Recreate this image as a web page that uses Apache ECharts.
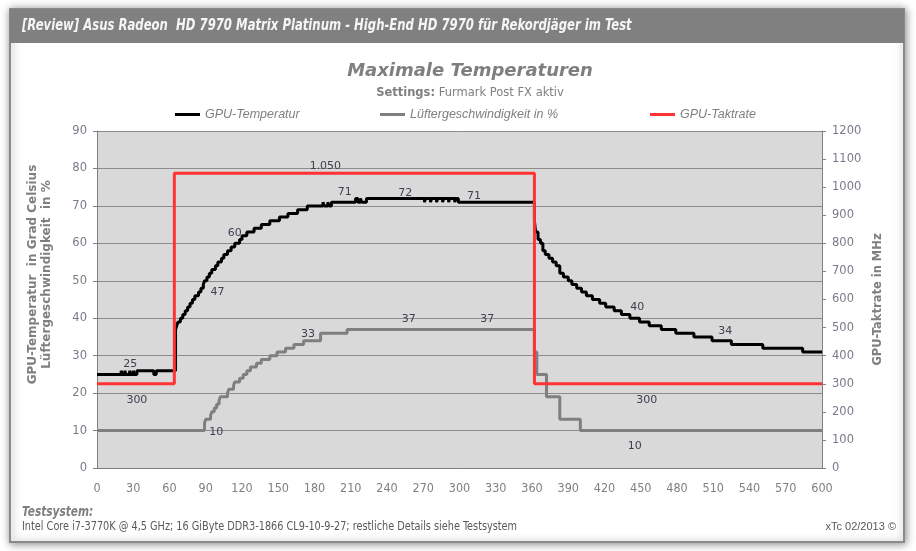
<!DOCTYPE html>
<html lang="de">
<head>
<meta charset="UTF-8">
<title>Maximale Temperaturen</title>
<script src="https://cdn.jsdelivr.net/npm/echarts@6/dist/echarts.min.js"></script>
<style>
    html, body { margin: 0; padding: 0; background: #fff; }
    #main { width: 916px; height: 551px; }
</style>
</head>
<body>
<div id="main"></div>
<script>
    // Messwerte als [Sekunde, Wert] - der Wert gilt ab dieser Sekunde (Treppe)
    var tempData = [
        [0, 25], [20, 26], [21, 25], [23, 26], [24, 25], [27, 26], [28, 25], [30, 26], [31, 25], [33, 26],
        [47, 25], [49, 26],
        [65, 37], [66, 38], [67, 39], [69, 40], [71, 41], [73, 42], [75, 43], [77, 44], [79, 45], [81, 46],
        [84, 47], [86, 48], [88, 49], [89, 50], [91, 51], [93, 52], [95, 53], [98, 54], [100, 55], [103, 56],
        [105, 57], [108, 58], [111, 59], [114, 60], [118, 61], [120, 62], [124, 63], [130, 64], [136, 65],
        [143, 66], [151, 67], [158, 68], [166, 69], [174, 70], [187, 71], [188, 70], [191, 71], [192, 70],
        [194, 71], [214, 72], [216, 71], [218, 72], [219, 71], [223, 72], [271, 71], [272, 72], [276, 71],
        [277, 72], [281, 71], [282, 72], [286, 71], [287, 72], [291, 71], [292, 72], [296, 71], [297, 72],
        [299, 71], [362, 66], [363, 63], [365, 61], [367, 60], [369, 58], [371, 57], [374, 56], [377, 55],
        [380, 54], [383, 52], [386, 51], [390, 50], [393, 49], [397, 48], [401, 47], [405, 46], [410, 45],
        [416, 44], [421, 43], [428, 42], [434, 41], [441, 40], [449, 39], [457, 38], [467, 37], [479, 36],
        [494, 35], [509, 34], [525, 33], [551, 32], [584, 31], [600, 31]
    ];
    var fanData = [
        [0, 10], [89, 12], [90, 13], [94, 14], [95, 15], [97, 16], [99, 17], [101, 18], [102, 19], [108, 20],
        [109, 21], [113, 22], [114, 23], [118, 24], [121, 25], [124, 26], [127, 27], [132, 28], [136, 29],
        [143, 30], [149, 31], [156, 32], [163, 33], [171, 34], [185, 36], [207, 37], [362, 31], [364, 25],
        [372, 19], [383, 13], [400, 10], [600, 10]
    ];
    var clockData = [[0, 300], [64, 1050], [362, 300], [600, 300]];

    var seriesNames = ['GPU-Temperatur', 'Lüftergeschwindigkeit in %', 'GPU-Taktrate'];

    // Sekunden, an denen Excel Datenbeschriftungen zeigt
    var tempLabelAt = [25, 84, 114, 205, 255, 312, 447, 520];
    var fanLabelAt = [88, 168, 258, 323, 445];
    var clockLabelAt = [33, 189, 455];

    var labelFont = 'DejaVu Sans, Verdana, sans-serif';
    var narrowFont = "'Liberation Sans Narrow', 'DejaVu Sans Condensed', 'Liberation Sans', sans-serif";

    function valueAt(data, t) {
        var v = data[0][1];
        for (var i = 0; i < data.length; i++) {
            if (data[i][0] <= t) v = data[i][1];
        }
        return v;
    }

    function germanNum(v) {
        return String(v).replace(/\B(?=(\d{3})+(?!\d))/g, '.');
    }

    // pos/dist je Beschriftung, Reihenfolge wie in den *LabelAt Listen
    function marks(data, times, pos, dist, offs) {
        return times.map(function (t, i) {
            var v = valueAt(data, t);
            return {
                coord: [t, v],
                value: v,
                label: { position: pos[i], distance: dist[i], offset: offs ? offs[i] : [0, 0] }
            };
        });
    }

    var markLabel = {
        show: true,
        color: '#404050',
        fontFamily: labelFont,
        fontSize: 11,
        formatter: function (p) { return germanNum(p.value); }
    };

    var myChart = echarts.init(document.getElementById('main'));

    var option = {
        animation: false,
        backgroundColor: '#fff',
        title: {
            text: 'Maximale Temperaturen',
            subtext: '{b|Settings:} Furmark Post FX aktiv',
            left: 465,
            textAlign: 'center',
            top: 57,
            itemGap: 7,
            textStyle: {
                color: '#7f7f7f',
                fontStyle: 'italic',
                fontWeight: 'bold',
                fontSize: 18,
                fontFamily: labelFont
            },
            subtextStyle: {
                color: '#7f7f7f',
                fontSize: 11.5,
                fontFamily: labelFont,
                rich: {
                    b: { fontWeight: 'bold', fontSize: 11.5, color: '#7f7f7f', fontFamily: labelFont }
                }
            }
        },
        legend: [0, 1, 2].map(function (i) {
            return {
                data: [seriesNames[i]],
                left: [175, 380, 650][i],
                top: 108,
                padding: 0,
                icon: 'rect',
                itemWidth: 25,
                itemHeight: 3,
                textStyle: {
                    color: '#7f7f7f',
                    fontStyle: 'italic',
                    fontSize: 12.5,
                    fontFamily: 'Liberation Sans, Arial, sans-serif'
                }
            };
        }),
        grid: {
            left: 97,
            right: 94,
            top: 131,
            bottom: 83,
            show: true,
            backgroundColor: '#d9d9d9',
            borderWidth: 0
        },
        xAxis: {
            type: 'value',
            min: 0,
            max: 600,
            interval: 30,
            axisLine: { show: true, lineStyle: { color: '#808080', width: 1 } },
            axisTick: { show: false },
            splitLine: { show: false },
            axisLabel: {
                color: '#808080',
                fontSize: 12.5,
                margin: 14,
                fontFamily: narrowFont
            }
        },
        yAxis: [{
            type: 'value',
            min: 0,
            max: 90,
            interval: 10,
            name: 'GPU-Temperatur  in Grad Celsius\nLüftergeschwindigkeit  in %',
            nameLocation: 'middle',
            nameRotate: 90,
            nameGap: 43,
            nameTextStyle: {
                color: '#7f7f7f',
                fontWeight: 'bold',
                fontSize: 12,
                lineHeight: 14,
                padding: [0, 0, 0, 50],
                fontFamily: labelFont
            },
            axisLine: { show: true, lineStyle: { color: '#808080' } },
            axisTick: { show: true, length: 4, lineStyle: { color: '#808080' } },
            splitLine: { show: true, lineStyle: { color: '#8c8c8c', width: 1 } },
            axisLabel: { color: '#7a7a8a', fontSize: 11.5, margin: 10, fontFamily: labelFont }
        }, {
            type: 'value',
            min: 0,
            max: 1200,
            interval: 100,
            position: 'right',
            name: 'GPU-Taktrate in MHz',
            nameLocation: 'middle',
            nameRotate: 90,
            nameGap: 49,
            nameTextStyle: {
                color: '#7f7f7f',
                fontWeight: 'bold',
                fontSize: 11.5,
                fontFamily: labelFont
            },
            axisLine: { show: true, lineStyle: { color: '#808080' } },
            axisTick: { show: true, length: 4, lineStyle: { color: '#808080' } },
            splitLine: { show: false },
            axisLabel: {
                color: '#7a7a8a', fontSize: 11.5, margin: 10, fontFamily: labelFont,
                formatter: function (v) { return String(v); }
            }
        }],
        series: [{
            name: seriesNames[0],
            type: 'line',
            step: 'end',
            data: tempData,
            showSymbol: false,
            symbol: 'none',
            color: '#000000',
            lineStyle: { width: 3, color: '#000000' },
            z: 3,
            markPoint: {
                symbol: 'circle',
                symbolSize: 0,
                label: markLabel,
                data: marks(tempData, tempLabelAt,
                    ['top', 'right', 'top', 'top', 'top', 'top', 'top', 'top'],
                    [5, 12, 5, 5, 0, 1, 6, 4],
                    [[3, 0], [0, 0], [0, 0], [0, 0], [0, 0], [0, 0], [0, 0], [0, 0]])
            }
        }, {
            name: seriesNames[1],
            type: 'line',
            step: 'end',
            data: fanData,
            showSymbol: false,
            symbol: 'none',
            color: '#7f7f7f',
            lineStyle: { width: 3, color: '#7f7f7f' },
            z: 4,
            markPoint: {
                symbol: 'circle',
                symbolSize: 0,
                label: markLabel,
                data: marks(fanData, fanLabelAt,
                    ['right', 'top', 'top', 'top', 'bottom'],
                    [6, 5, 5, 5, 10],
                    [[0, 2], [8, 0], [0, 0], [0, 0], [0, 0]])
            }
        }, {
            name: seriesNames[2],
            type: 'line',
            step: 'end',
            yAxisIndex: 1,
            data: clockData,
            showSymbol: false,
            symbol: 'none',
            color: '#ff3333',
            lineStyle: { width: 3, color: '#ff3333' },
            z: 5,
            markPoint: {
                symbol: 'circle',
                symbolSize: 0,
                label: markLabel,
                data: marks(clockData, clockLabelAt, ['bottom', 'top', 'bottom'], [11, 1, 11])
            }
        }],
        graphic: [{
            type: 'rect',
            z: -10,
            silent: true,
            shape: { x: 10, y: 9, width: 894, height: 533 },
            style: {
                fill: '#ffffff',
                stroke: '#8a8a8a',
                lineWidth: 2,
                shadowBlur: 8,
                shadowColor: 'rgba(0,0,0,0.45)',
                shadowOffsetX: 1,
                shadowOffsetY: 1
            }
        }, {
            type: 'rect',
            z: -9,
            silent: true,
            shape: { x: 10, y: 9, width: 894, height: 34 },
            style: { fill: '#808080' }
        }, {
            type: 'text',
            x: 22,
            y: 26,
            scaleX: 0.81,
            style: {
                text: '[Review] Asus Radeon  HD 7970 Matrix Platinum - High-End HD 7970 für Rekordjäger im Test',
                fill: '#f5f5f5',
                verticalAlign: 'middle',
                font: 'italic bold 16px ' + narrowFont
            }
        }, {
            type: 'text',
            x: 22,
            y: 512,
            scaleX: 0.84,
            style: {
                text: 'Testsystem:',
                fill: '#7f7f7f',
                verticalAlign: 'middle',
                font: 'italic bold 14px ' + narrowFont
            }
        }, {
            type: 'text',
            x: 22,
            y: 527,
            scaleX: 0.9,
            style: {
                text: 'Intel Core i7-3770K @ 4,5 GHz; 16 GiByte DDR3-1866 CL9-10-9-27; restliche Details siehe Testsystem',
                fill: '#595959',
                verticalAlign: 'middle',
                font: '12px ' + narrowFont
            }
        }, {
            type: 'text',
            x: 896,
            y: 527,
            style: {
                text: 'xTc 02/2013 ©',
                fill: '#595959',
                align: 'right',
                verticalAlign: 'middle',
                font: '11px Liberation Sans, Arial, sans-serif'
            }
        }]
    };

    myChart.setOption(option);
</script>
</body>
</html>
